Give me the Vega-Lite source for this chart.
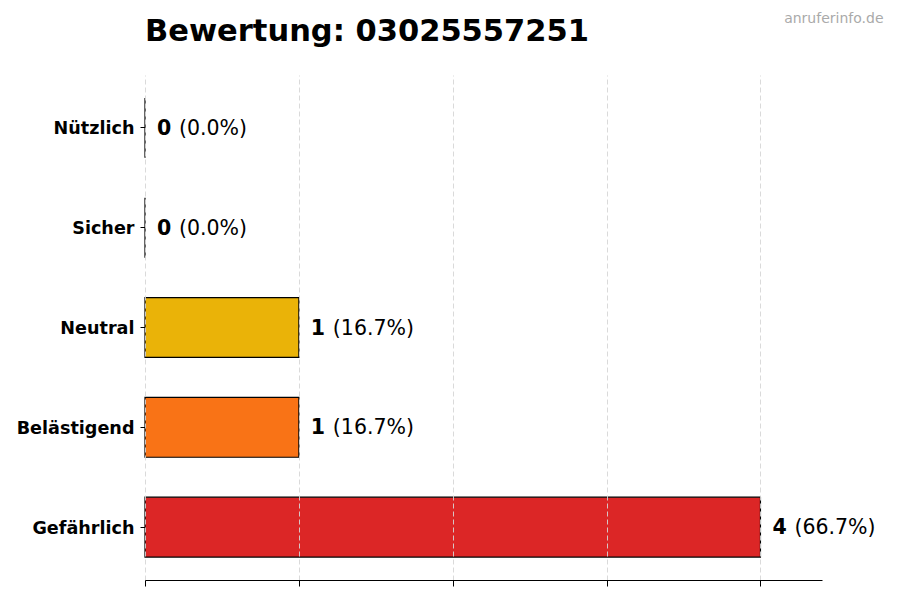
{
  "$schema": "https://vega.github.io/schema/vega-lite/v6.json",
  "width": 677,
  "height": 505,
  "autosize": {"type": "none"},
  "padding": {"left": 145, "top": 75, "right": 78, "bottom": 20},
  "background": "white",
  "title": {
    "text": "Bewertung: 03025557251",
    "font": "DejaVu Sans",
    "fontSize": 30.5,
    "fontWeight": "bold",
    "color": "black",
    "anchor": "start",
    "frame": "group",
    "baseline": "alphabetic",
    "offset": -60
  },
  "config": {
    "view": {"stroke": null},
    "font": "DejaVu Sans"
  },
  "data": {
    "values": [
      {"kategorie": "Nützlich", "anzahl": 0, "anteil": "(0.0%)"},
      {"kategorie": "Sicher", "anzahl": 0, "anteil": "(0.0%)"},
      {"kategorie": "Neutral", "anzahl": 1, "anteil": "(16.7%)"},
      {"kategorie": "Belästigend", "anzahl": 1, "anteil": "(16.7%)"},
      {"kategorie": "Gefährlich", "anzahl": 4, "anteil": "(66.7%)"}
    ]
  },
  "resolve": {"axis": {"x": "independent"}},
  "encoding": {
    "y": {
      "field": "kategorie",
      "type": "nominal",
      "sort": ["Nützlich", "Sicher", "Neutral", "Belästigend", "Gefährlich"],
      "scale": {"paddingInner": 0.4, "paddingOuter": 0.23},
      "axis": {
        "title": null,
        "domain": false,
        "ticks": true,
        "tickSize": 5,
        "tickColor": "black",
        "labelPadding": 6,
        "labelOffset": 1.5,
        "labelFont": "DejaVu Sans",
        "labelFontSize": 17.6,
        "labelFontWeight": "bold",
        "labelColor": "black"
      }
    }
  },
  "layer": [
    {
      "mark": {"type": "bar", "stroke": "black", "strokeWidth": 1.2},
      "encoding": {
        "x": {
          "field": "anzahl",
          "type": "quantitative",
          "scale": {"domain": [0, 4.4], "nice": false, "zero": true},
          "axis": {
            "title": null,
            "values": [0, 1, 2, 3, 4],
            "labels": false,
            "ticks": true,
            "tickSize": 6,
            "tickColor": "black",
            "domain": true,
            "domainColor": "black",
            "grid": true,
            "gridColor": "#d6d6d6",
            "gridDash": [5, 3],
            "gridWidth": 0.9,
            "zindex": 1
          }
        },
        "color": {
          "field": "kategorie",
          "type": "nominal",
          "legend": null,
          "scale": {
            "domain": ["Nützlich", "Sicher", "Neutral", "Belästigend", "Gefährlich"],
            "range": ["#16a34a", "#2563eb", "#eab308", "#f97316", "#dc2626"]
          }
        }
      }
    },
    {
      "mark": {
        "type": "text",
        "align": "left",
        "baseline": "middle",
        "dx": 12,
        "dy": 1,
        "font": "DejaVu Sans",
        "fontSize": 20.5,
        "fontWeight": "bold",
        "color": "black"
      },
      "encoding": {
        "x": {"field": "anzahl", "type": "quantitative", "axis": null},
        "text": {"field": "anzahl", "type": "quantitative"}
      }
    },
    {
      "mark": {
        "type": "text",
        "align": "left",
        "baseline": "middle",
        "dx": 34,
        "dy": 1,
        "font": "DejaVu Sans",
        "fontSize": 20.5,
        "color": "black"
      },
      "encoding": {
        "x": {
          "field": "anzahl",
          "type": "quantitative",
          "axis": {
            "orient": "top",
            "title": "anruferinfo.de",
            "titleFont": "DejaVu Sans",
            "titleFontSize": 14,
            "titleFontWeight": "normal",
            "titleColor": "#aaaaaa",
            "titleAnchor": "end",
            "titleAlign": "right",
            "titleBaseline": "alphabetic",
            "titleX": 738,
            "titleY": -53,
            "labels": false,
            "ticks": false,
            "domain": false,
            "grid": false
          }
        },
        "text": {"field": "anteil", "type": "nominal"}
      }
    }
  ]
}
